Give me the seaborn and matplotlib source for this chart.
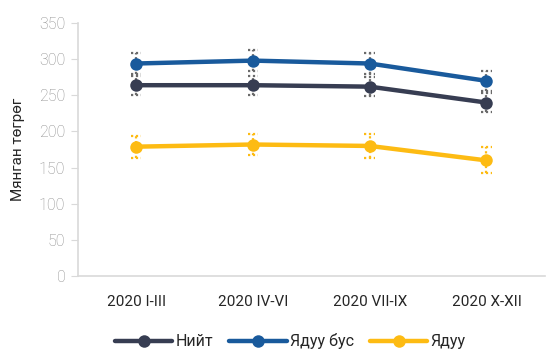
import pandas as pd
import numpy as np
import matplotlib.pyplot as plt
import seaborn as sns

# Quarterly values, thousand MNT
quarters = ["2020 I-III", "2020 IV-VI", "2020 VII-IX", "2020 X-XII"]
series_names = ["Нийт", "Ядуу бус", "Ядуу"]
total = [264, 264, 262, 240]
non_poor = [294, 298, 294, 270]
poor = [179, 182, 180, 160]
err_total = [13, 13, 13, 13]
err_non_poor = [14, 14, 14, 14]
err_poor = [15, 15, 16, 18]

values = {"Нийт": total, "Ядуу бус": non_poor, "Ядуу": poor}
errors = {"Нийт": err_total, "Ядуу бус": err_non_poor, "Ядуу": err_poor}
colors = {"Нийт": "#373d52", "Ядуу бус": "#195a9c", "Ядуу": "#fdbb13"}
err_colors = {"Нийт": "#6b6b6b", "Ядуу бус": "#6b6b6b", "Ядуу": "#fdbb13"}

df = pd.DataFrame({
    "quarter": quarters * 3,
    "series": np.repeat(series_names, len(quarters)),
    "value": total + non_poor + poor,
})

sns.set_style("white")
plt.rcParams["font.family"] = ["Roboto", "DejaVu Sans"]

fig = plt.figure(figsize=(5.52, 3.54), dpi=100)
ax = fig.add_axes([0.141, 0.22, 0.846, 0.715])

sns.lineplot(data=df, x="quarter", y="value", hue="series", palette=colors,
             marker="o", markersize=9, markeredgewidth=0, linewidth=3.2,
             sort=False, ax=ax, zorder=3)

# dotted error bars with dotted caps
xpos = np.arange(len(quarters))
for name in series_names:
    v = np.array(values[name])
    e = np.array(errors[name])
    c = err_colors[name]
    ax.vlines(xpos, v - e, v + e, colors=c, linestyles=(0, (1, 1.2)),
              linewidth=1.6, zorder=2)
    ax.hlines(np.r_[v - e, v + e], np.r_[xpos, xpos] - 0.045,
              np.r_[xpos, xpos] + 0.045, colors=c, linestyles=(0, (1, 1.2)),
              linewidth=1.6, zorder=2)

ax.set_ylim(0, 350)
ax.set_xlim(-0.5, 3.5)
ax.set_yticks(range(0, 351, 50))
ax.set_xlabel("")
ax.set_ylabel("Мянган төгрөг", fontsize=11, color="#262626", labelpad=10)

for side in ["top", "right"]:
    ax.spines[side].set_visible(False)
for side in ["left", "bottom"]:
    ax.spines[side].set_color("#d9d9d9")
    ax.spines[side].set_linewidth(1.2)

ax.tick_params(axis="y", left=True, length=5, color="#d9d9d9",
               labelsize=11.5, labelcolor="#8c8c8c", pad=4)
ax.tick_params(axis="x", bottom=False, labelsize=11, labelcolor="#262626", pad=10)
for t in ax.get_yticklabels():
    t.set_fontweight("light")

ax.legend(loc="upper center", bbox_to_anchor=(0.455, -0.2), ncol=3, frameon=False,
          fontsize=11.5, handlelength=3.6, columnspacing=1.0, handletextpad=0.2,
          borderaxespad=0)

fig.savefig("out.png", dpi=100)
